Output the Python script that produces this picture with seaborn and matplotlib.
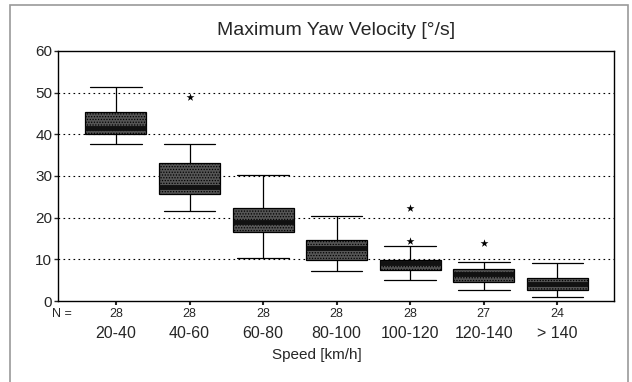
import numpy as np
import pandas as pd
import seaborn as sns
import matplotlib.pyplot as plt
from matplotlib.patches import Rectangle
from matplotlib.transforms import blended_transform_factory

speeds = ['20-40', '40-60', '60-80', '80-100', '100-120', '120-140', '> 140']
n_counts = [28, 28, 28, 28, 28, 27, 24]
# five-number summaries
whis_low = [37.6, 21.6, 10.3, 7.1, 5.0, 2.7, 1.0]
q1 = [40.1, 25.7, 16.5, 9.8, 7.5, 4.6, 2.6]
median = [41.5, 27.4, 19.0, 12.6, 9.0, 6.5, 4.0]
q3 = [45.4, 33.1, 22.2, 14.7, 9.9, 7.7, 5.5]
whis_high = [51.4, 37.7, 30.3, 20.4, 13.3, 9.4, 9.1]
# extreme values
out_speed = ['40-60', '100-120', '100-120', '120-140']
out_value = [49.0, 22.2, 14.4, 13.9]

rows = []
for i, s in enumerate(speeds):
    for v in (whis_low[i], q1[i], median[i], q3[i], whis_high[i]):
        rows.append({'speed': s, 'yaw': v})
df = pd.DataFrame(rows)
df_out = pd.DataFrame({'speed': out_speed, 'yaw': out_value})

sns.set_style('white')
plt.rcParams['font.family'] = ['Liberation Sans', 'DejaVu Sans']
plt.rcParams['hatch.linewidth'] = 0.6

fig = plt.figure(figsize=(6.32, 3.82), dpi=100)
ax = fig.add_axes([0.0915, 0.212, 0.88, 0.655])

sns.boxplot(data=df, x='speed', y='yaw', order=speeds, whis=(0, 100), width=0.83,
            color='#555555', linecolor='black', linewidth=0.9, ax=ax,
            capwidths=0.7,
            medianprops={'color': '#111111', 'linewidth': 3.5})
for p in ax.patches:
    p.set_hatch('......')
sns.stripplot(data=df_out, x='speed', y='yaw', order=speeds, jitter=False,
              marker='*', color='black', size=6, ax=ax)

ax.set_xlim(-0.79, 6.77)
ax.set_ylim(0, 60)
ax.set_yticks([0, 10, 20, 30, 40, 50, 60])
for v in [10, 20, 30, 40, 50]:
    ax.axhline(v, color='black', linestyle=(0, (1.5, 3)), linewidth=0.8, zorder=0)
for sp in ax.spines.values():
    sp.set_color('black')
    sp.set_linewidth(1.0)
ax.tick_params(axis='y', left=True, length=3, width=1, labelsize=11, pad=1)
ax.tick_params(axis='x', bottom=True, length=3, width=1.5, labelsize=11.5, pad=15)
ax.set_xlabel('')
ax.set_ylabel('')

trans = blended_transform_factory(ax.transData, ax.transAxes)
for i, n in enumerate(n_counts):
    ax.text(i, -0.028, str(n), transform=trans, ha='center', va='top', fontsize=9)
ax.text(-0.6, -0.028, 'N =', transform=trans, ha='right', va='top', fontsize=9)

fig.text(0.532, 0.92, 'Maximum Yaw Velocity [°/s]', ha='center', va='center', fontsize=14)
fig.text(0.502, 0.07, 'Speed [km/h]', ha='center', va='center', fontsize=11)

fig.patches.append(Rectangle((0.016, -0.01), 0.977, 0.997, transform=fig.transFigure,
                             fill=False, edgecolor='#9a9a9a', linewidth=1.2))

fig.savefig('out.png', dpi=100)
